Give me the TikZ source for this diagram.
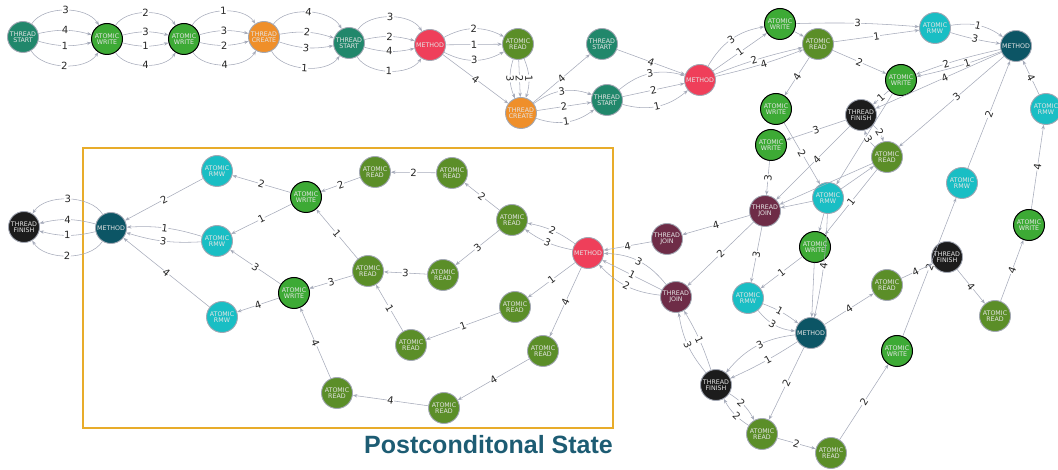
\documentclass[tikz,border=0pt]{standalone}
\usepackage{fontspec}
\setmainfont{DejaVu Sans}
\newfontfamily\titlefont{Liberation Sans}
\usetikzlibrary{arrows.meta}
\definecolor{cTS}{HTML}{21876B}
\definecolor{cAW}{HTML}{3DAA35}
\definecolor{cTC}{HTML}{EF8F2A}
\definecolor{cMR}{HTML}{EF3F5A}
\definecolor{cAR}{HTML}{5B8E28}
\definecolor{cRMW}{HTML}{19BEC4}
\definecolor{cMD}{HTML}{0C5565}
\definecolor{cTJ}{HTML}{6E2C47}
\definecolor{cTF}{HTML}{1C1C1C}
\definecolor{ndgray}{HTML}{A3A8B4}
\definecolor{edgec}{HTML}{A6ABBA}
\definecolor{boxc}{HTML}{E8AC2A}
\definecolor{titlec}{HTML}{1D5C73}
\tikzset{
  nd/.style={circle, minimum size=31pt, inner sep=0pt, draw=ndgray, line width=0.9pt,
    font=\fontsize{6.3}{6.4}\selectfont, text=white!90!black, align=center},
  ts/.style={nd, fill=cTS},
  aw/.style={nd, fill=cAW, draw=black, line width=1pt},
  tc/.style={nd, fill=cTC},
  mr/.style={nd, fill=cMR},
  ar/.style={nd, fill=cAR},
  rmw/.style={nd, fill=cRMW},
  md/.style={nd, fill=cMD},
  tj/.style={nd, fill=cTJ},
  tf/.style={nd, fill=cTF},
  ed/.style={draw=edgec, line width=0.55pt, -{Stealth[length=4.5pt,width=3.4pt]}},
  lb/.style={font=\fontsize{10}{10}\selectfont, fill=white, inner sep=0.4pt, sloped, midway, text=black!85},
  oL/.style={bend left=58, looseness=0.85},
  iL/.style={bend left=14},
  iR/.style={bend right=14},
  oR/.style={bend right=58, looseness=0.85},
  mL/.style={bend left=28},
  mR/.style={bend right=28},
}
\begin{document}
\begin{tikzpicture}[x=1pt,y=1pt]
\useasboundingbox (0,0) rectangle (1058,-470);
% box and title
\draw[boxc, line width=1.3pt] (83,-148) rectangle (613,-428);
\node[anchor=base east, inner sep=0pt, text=titlec, font=\titlefont\bfseries\fontsize{25}{25}\selectfont] (title) at (613,-453) {Postconditonal State};
% top row
\node[ts] (n1) at (23,-37) {THREAD\\START};
\node[aw] (n2) at (107,-39) {ATOMIC\\WRITE};
\node[aw] (n3) at (184,-39) {ATOMIC\\WRITE};
\node[tc] (n4) at (264,-37) {THREAD\\CREATE};
\node[ts] (n5) at (349,-43) {THREAD\\START};
\node[mr] (n6) at (430,-45) {METHOD};
\node[ar] (n7) at (518,-44) {ATOMIC\\READ};
\node[tc] (n8) at (521,-113) {THREAD\\CREATE};
\node[ts] (n9) at (602,-44) {THREAD\\START};
\node[ts] (n10) at (607,-100) {THREAD\\START};
\node[mr] (n11) at (700,-80) {METHOD};
\node[aw] (n12) at (780,-24) {ATOMIC\\WRITE};
\node[ar] (n13) at (818,-44) {ATOMIC\\READ};
\node[rmw] (n14) at (935,-28) {ATOMIC\\RMW};
\node[md] (n15) at (1016,-46) {METHOD};
\node[aw] (n16) at (901,-80) {ATOMIC\\WRITE};
\node[tf] (n17) at (861,-115) {THREAD\\FINISH};
\node[aw] (n18) at (776,-109) {ATOMIC\\WRITE};
\node[aw] (n19) at (771,-145) {ATOMIC\\WRITE};
\node[ar] (n20) at (887,-157) {ATOMIC\\READ};
\node[rmw] (n21) at (1046,-109) {ATOMIC\\RMW};
\node[rmw] (n22) at (962,-183) {ATOMIC\\RMW};
\node[rmw] (n23) at (828,-198) {ATOMIC\\RMW};
\node[tj] (n24) at (765,-211) {THREAD\\JOIN};
\node[aw] (n25) at (1029,-225) {ATOMIC\\WRITE};
\node[aw] (n26) at (815,-247) {ATOMIC\\WRITE};
\node[tf] (n27) at (947,-257) {THREAD\\FINISH};
\node[tj] (n28) at (667,-239) {THREAD\\JOIN};
\node[mr] (n29) at (588,-253) {METHOD};
\node[tj] (n30) at (676,-297) {THREAD\\JOIN};
\node[rmw] (n31) at (748,-298) {ATOMIC\\RMW};
\node[ar] (n32) at (887,-285) {ATOMIC\\READ};
\node[ar] (n33) at (995,-316) {ATOMIC\\READ};
\node[md] (n34) at (811,-333) {METHOD};
\node[aw] (n35) at (897,-351) {ATOMIC\\WRITE};
\node[tf] (n36) at (716,-385) {THREAD\\FINISH};
\node[ar] (n37) at (762,-434) {ATOMIC\\READ};
\node[ar] (n38) at (831,-453) {ATOMIC\\READ};
% box nodes
\node[tf] (b1) at (24,-227) {THREAD\\FINISH};
\node[md] (b2) at (111,-228) {METHOD};
\node[rmw] (b3) at (217,-171) {ATOMIC\\RMW};
\node[aw] (b4) at (306,-197) {ATOMIC\\WRITE};
\node[rmw] (b5) at (217,-241) {ATOMIC\\RMW};
\node[aw] (b6) at (294,-293) {ATOMIC\\WRITE};
\node[rmw] (b7) at (222,-317) {ATOMIC\\RMW};
\node[ar] (b8) at (375,-172) {ATOMIC\\READ};
\node[ar] (b9) at (452,-173) {ATOMIC\\READ};
\node[ar] (b10) at (512,-220) {ATOMIC\\READ};
\node[ar] (b11) at (368,-271) {ATOMIC\\READ};
\node[ar] (b12) at (443,-275) {ATOMIC\\READ};
\node[ar] (b13) at (515,-307) {ATOMIC\\READ};
\node[ar] (b14) at (411,-345) {ATOMIC\\READ};
\node[ar] (b15) at (543,-351) {ATOMIC\\READ};
\node[ar] (b16) at (337,-393) {ATOMIC\\READ};
\node[ar] (b17) at (444,-408) {ATOMIC\\READ};
% ---- top row edges
\draw[ed] (n1) to[oL] node[lb]{3} (n2);
\draw[ed] (n1) to[iL] node[lb]{4} (n2);
\draw[ed] (n1) to[iR] node[lb]{1} (n2);
\draw[ed] (n1) to[oR] node[lb]{2} (n2);
\draw[ed] (n2) to[oL] node[lb]{2} (n3);
\draw[ed] (n2) to[iL] node[lb]{3} (n3);
\draw[ed] (n2) to[iR] node[lb]{1} (n3);
\draw[ed] (n2) to[oR] node[lb]{4} (n3);
\draw[ed] (n3) to[oL] node[lb]{1} (n4);
\draw[ed] (n3) to[iL] node[lb]{3} (n4);
\draw[ed] (n3) to[iR] node[lb]{2} (n4);
\draw[ed] (n3) to[oR] node[lb]{4} (n4);
\draw[ed] (n4) to[oL] node[lb]{4} (n5);
\draw[ed] (n4) to[iL] node[lb]{2} (n5);
\draw[ed] (n4) to[iR] node[lb]{3} (n5);
\draw[ed] (n4) to[oR] node[lb]{1} (n5);
\draw[ed] (n5) to[oL] node[lb]{3} (n6);
\draw[ed] (n5) to[iL] node[lb]{2} (n6);
\draw[ed] (n5) to[iR] node[lb]{4} (n6);
\draw[ed] (n5) to[oR] node[lb]{1} (n6);
\draw[ed] (n6) to[mL] node[lb]{2} (n7);
\draw[ed] (n6) -- node[lb]{1} (n7);
\draw[ed] (n6) to[mR] node[lb]{3} (n7);
\draw[ed] (n6) -- node[lb]{4} (n8);
\draw[ed] (n7) to[bend right=20] node[lb]{3} (n8);
\draw[ed] (n7) -- node[lb]{2} (n8);
\draw[ed] (n7) to[bend left=20] node[lb]{1} (n8);
\draw[ed] (n8) -- node[lb]{4} (n9);
\draw[ed] (n8) to[mL] node[lb]{3} (n10);
\draw[ed] (n8) -- node[lb]{2} (n10);
\draw[ed] (n8) to[mR] node[lb]{1} (n10);
\draw[ed] (n9) -- node[lb]{4} (n11);
\draw[ed] (n10) to[mL] node[lb]{3} (n11);
\draw[ed] (n10) -- node[lb]{2} (n11);
\draw[ed] (n10) to[mR] node[lb]{1} (n11);
% ---- right tangle
\draw[ed] (n11) to[bend left=25] node[lb]{3} (n12);
\draw[ed] (n11) -- node[lb]{1} (n12);
\draw[ed] (n11) to[bend left=4] node[lb,pos=0.45]{2} (n13);
\draw[ed] (n11) to[bend right=4] node[lb,pos=0.55]{4} (n13);
\draw[ed] (n12) -- (n13);
\draw[ed] (n12) to[bend left=3] node[lb]{3} (n14);
\draw[ed] (n13) -- node[lb]{1} (n14);
\draw[ed] (n13) -- node[lb]{2} (n16);
\draw[ed] (n13) -- node[lb]{4} (n18);
\draw[ed] (n14) to[bend left=22] node[lb]{1} (n15);
\draw[ed] (n14) to[bend right=4] node[lb]{3} (n15);
\draw[ed] (n15) to[bend right=4] node[lb,pos=0.65]{2} (n16);
\draw[ed] (n15) to[bend left=4] node[lb,pos=0.4]{1} (n16);
\draw[ed] (n15) -- node[lb,pos=0.45]{4} (n17);
\draw[ed] (n15) -- node[lb,pos=0.45]{3} (n20);
\draw[ed] (n16) -- node[lb]{1} (n17);
\draw[ed] (n16) -- (n23);
\draw[ed] (n17) -- node[lb]{3} (n19);
\draw[ed] (n17) to[bend left=18] node[lb,pos=0.5]{2} (n20);
\draw[ed] (n20) to[bend left=18] node[lb,pos=0.5]{3} (n17);
\draw[ed] (n17) -- node[lb,pos=0.45]{4} (n24);
\draw[ed] (n18) -- node[lb,pos=0.5]{2} (n23);
\draw[ed] (n19) -- node[lb]{3} (n24);
\draw[ed] (n20) -- (n24);
\draw[ed] (n23) -- (n20);
\draw[ed] (n20) -- node[lb]{1} (n26);
\draw[ed] (n23) -- (n24);
\draw[ed] (n23) -- (n26);
\draw[ed] (n23) to[bend left=5] node[lb]{4} (n34);
\draw[ed] (n26) -- (n34);
\draw[ed] (n24) -- node[lb]{4} (n28);
\draw[ed] (n24) -- node[lb]{2} (n30);
\draw[ed] (n24) -- node[lb]{3} (n31);
\draw[ed] (n26) -- node[lb]{1} (n31);
\draw[ed] (n31) to[bend left=8] node[lb,pos=0.45]{1} (n34);
\draw[ed] (n31) to[bend right=22] node[lb,pos=0.45]{3} (n34);
\draw[ed] (n34) -- node[lb]{4} (n32);
\draw[ed] (n34) to[bend right=22] node[lb,pos=0.45]{3} (n36);
\draw[ed] (n34) to[bend left=4] node[lb,pos=0.45]{1} (n36);
\draw[ed] (n34) -- node[lb]{2} (n37);
\draw[ed] (n36) to[bend left=15] node[lb]{3} (n30);
\draw[ed] (n36) to[bend right=6] node[lb]{1} (n30);
\draw[ed] (n36) to[bend left=14] node[lb,pos=0.4]{2} (n37);
\draw[ed] (n37) to[bend left=14] node[lb,pos=0.4]{2} (n36);
\draw[ed] (n37) -- node[lb]{2} (n38);
\draw[ed] (n38) -- node[lb]{2} (n35);
\draw[ed] (n35) -- node[lb,pos=0.5]{2} (n22);
\draw[ed] (n32) -- node[lb,pos=0.45]{4} (n27);
\draw[ed] (n27) -- node[lb]{4} (n33);
\draw[ed] (n33) -- node[lb]{4} (n25);
\draw[ed] (n25) -- node[lb]{4} (n21);
\draw[ed] (n21) -- node[lb]{4} (n15);
\draw[ed] (n22) -- node[lb]{2} (n15);
\draw[ed] (n28) -- node[lb]{4} (n29);
\draw[ed] (n30) to[bend right=25] node[lb]{3} (n29);
\draw[ed] (n30) -- node[lb]{1} (n29);
\draw[ed] (n30) to[bend left=20] node[lb]{2} (n29);
% ---- box edges
\draw[ed] (n29) to[bend right=12] node[lb]{2} (b10);
\draw[ed] (n29) to[bend left=12] node[lb]{3} (b10);
\draw[ed] (n29) -- node[lb]{1} (b13);
\draw[ed] (n29) -- node[lb]{4} (b15);
\draw[ed] (b10) -- node[lb]{2} (b9);
\draw[ed] (b9) -- node[lb]{2} (b8);
\draw[ed] (b8) -- node[lb]{2} (b4);
\draw[ed] (b4) -- node[lb]{2} (b3);
\draw[ed] (b3) -- node[lb]{2} (b2);
\draw[ed] (b10) -- node[lb]{3} (b12);
\draw[ed] (b12) -- node[lb]{3} (b11);
\draw[ed] (b11) -- node[lb]{3} (b6);
\draw[ed] (b6) -- node[lb]{3} (b5);
\draw[ed] (b5) to[bend left=10] node[lb]{3} (b2);
\draw[ed] (b5) to[bend right=10] node[lb]{1} (b2);
\draw[ed] (b13) -- node[lb]{1} (b14);
\draw[ed] (b14) -- node[lb]{1} (b11);
\draw[ed] (b11) -- node[lb]{1} (b4);
\draw[ed] (b4) -- node[lb]{1} (b5);
\draw[ed] (b15) -- node[lb]{4} (b17);
\draw[ed] (b17) -- node[lb]{4} (b16);
\draw[ed] (b16) -- node[lb]{4} (b6);
\draw[ed] (b6) -- node[lb]{4} (b7);
\draw[ed] (b7) -- node[lb]{4} (b2);
\draw[ed] (b2) to[bend right=58, looseness=0.85] node[lb]{3} (b1);
\draw[ed] (b2) to[bend right=14] node[lb]{4} (b1);
\draw[ed] (b2) to[bend left=14] node[lb]{1} (b1);
\draw[ed] (b2) to[bend left=58, looseness=0.85] node[lb]{2} (b1);
\end{tikzpicture}
\end{document}
